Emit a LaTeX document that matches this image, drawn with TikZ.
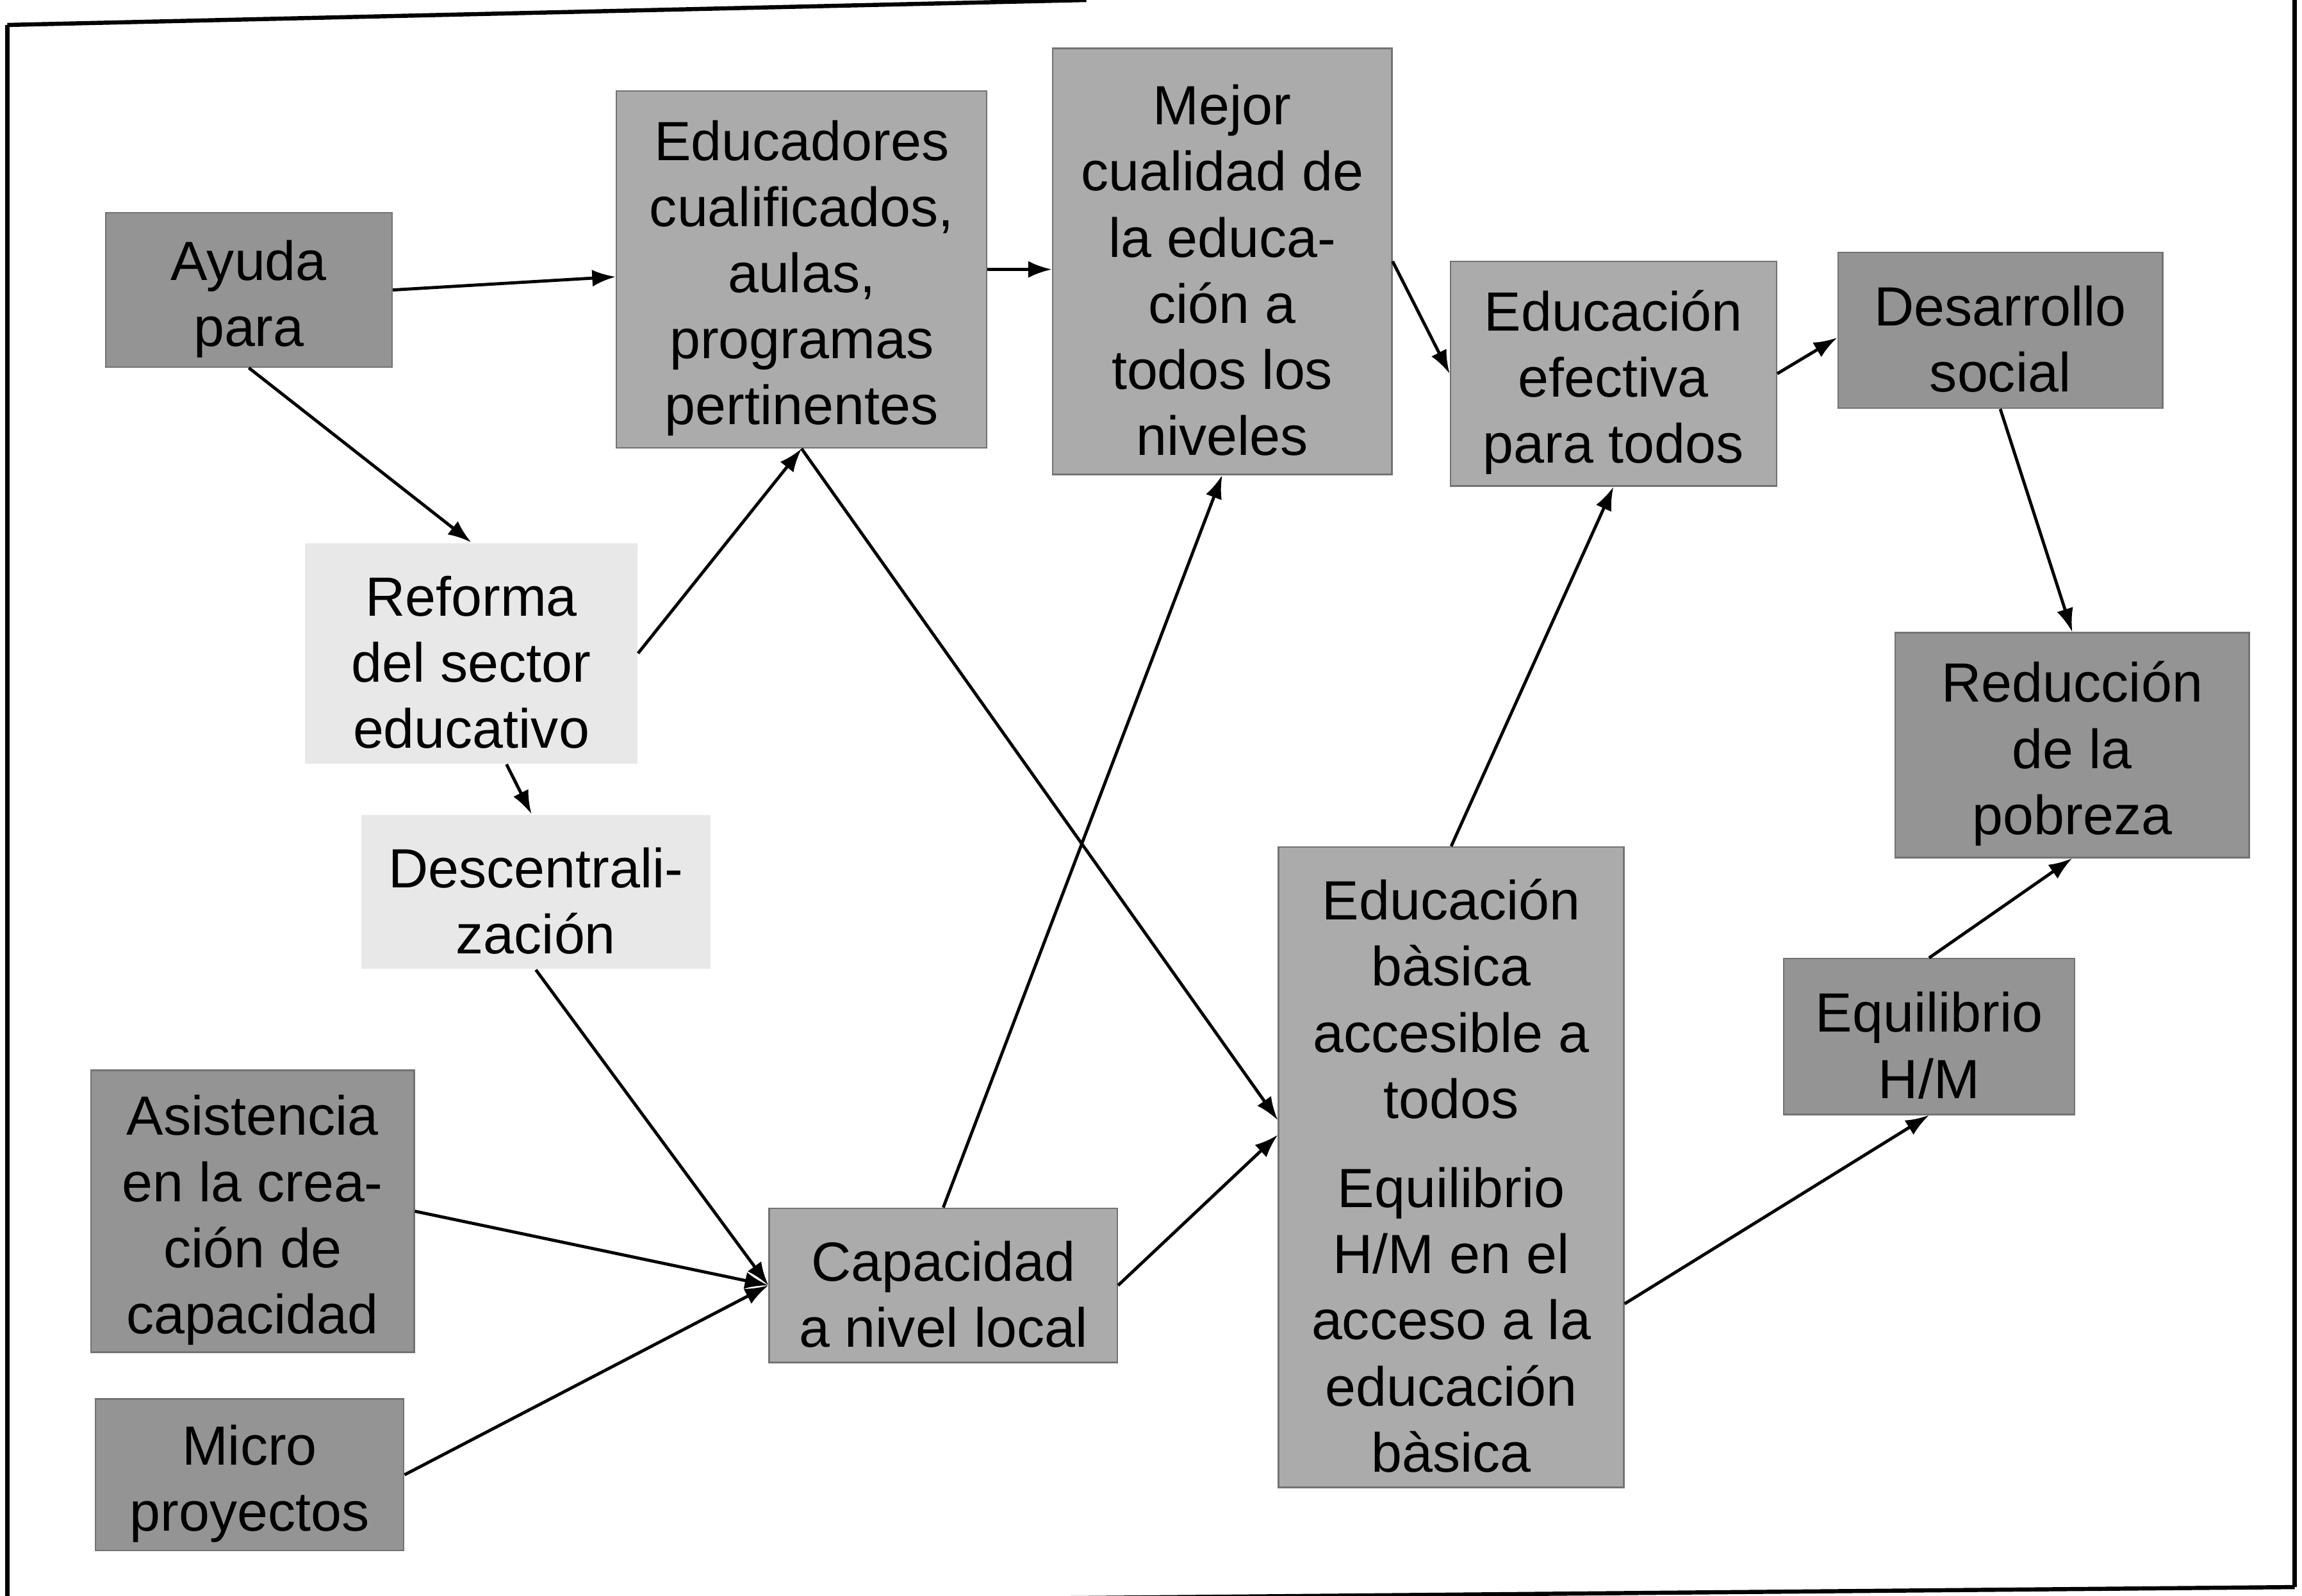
\documentclass[tikz,border=0pt]{standalone}
\usepackage{fontspec}
\setmainfont{Liberation Sans}
\usetikzlibrary{arrows.meta}
\definecolor{grisfonce}{gray}{0.58}
\definecolor{grismoyen}{gray}{0.67}
\definecolor{grisclair}{gray}{0.91}
\newcommand{\haut}{\rule{0pt}{11.2pt}}
\tikzset{
  boite/.style={draw=black!55, line width=0.3pt, inner sep=0pt, align=center,
    font=\fontsize{10.7}{12.8}\selectfont},
  fonce/.style={boite, fill=grisfonce},
  moyen/.style={boite, fill=grismoyen},
  clair/.style={boite, fill=grisclair, draw=none},
  fleche/.style={-{Latex[length=1.6mm,width=1.15mm]}, line width=0.6pt},
  marco/.style={line width=0.8pt},
}
\begin{document}
\begin{tikzpicture}[x=0.01cm,y=-0.01cm]% ------ Ayuda a la educacion ----------------
    \clip (0,0) rectangle (1568,1087);
    \draw [marco] (5,17)--(740,0);
    \draw [marco] (5,17)--(5,1090);
    \draw [marco] (1563,0)--(1563,1081);
    \draw [marco] (560,1090)--(1563,1081);
    % boites
    \node [fonce, minimum width=1.95cm, minimum height=1.05cm] (ayuda) at (169.5,197.5) {\haut Ayuda\\para};
    \node [moyen, minimum width=2.52cm, minimum height=2.43cm] (educ) at (546,183.5) {\haut Educadores\\cualificados,\\aulas,\\programas\\pertinentes};
    \node [moyen, minimum width=2.31cm, minimum height=2.90cm] (mejor) at (832.5,178) {\haut Mejor\\cualidad de\\la educa-\\ción a\\todos los\\niveles};
    \node [moyen, minimum width=2.22cm, minimum height=1.53cm] (efectiva) at (1099,254.5) {\haut Educación\\efectiva\\para todos};
    \node [fonce, minimum width=2.21cm, minimum height=1.06cm] (desarrollo) at (1362.5,225) {\haut Desarrollo\\social};
    \node [fonce, minimum width=2.41cm, minimum height=1.53cm] (reduccion) at (1411.5,507.5) {\haut Reducción\\de la\\pobreza};
    \node [clair, minimum width=2.26cm, minimum height=1.50cm] (reforma) at (321,445) {\haut Reforma\\del sector\\educativo};
    \node [clair, minimum width=2.38cm, minimum height=1.05cm] (desc) at (365,607.5) {\haut Descentrali-\\zación};
    \node [fonce, minimum width=2.20cm, minimum height=1.92cm] (asistencia) at (172,825) {\haut Asistencia\\en la crea-\\ción de\\capacidad};
    \node [fonce, minimum width=2.10cm, minimum height=1.03cm] (micro) at (170,1004.5) {\haut Micro\\proyectos};
    \node [moyen, minimum width=2.37cm, minimum height=1.05cm] (capacidad) at (642.5,875.5) {\haut Capacidad\\a nivel local};
    \node [moyen, minimum width=2.35cm, minimum height=4.36cm] (basica) at (988.5,795) {\haut Educación\\bàsica\\accesible a\\todos\\[4.5pt]Equilibrio\\H/M en el\\acceso a la\\educación\\bàsica};
    \node [fonce, minimum width=1.98cm, minimum height=1.06cm] (equilibrio) at (1314,706) {\haut Equilibrio\\H/M};
    % fleches
    \draw [fleche] (ayuda.east)--([yshift=-0.5mm]educ.west);
    \draw [fleche] (educ.east)--(educ.east -| mejor.west);
    \draw [fleche] (mejor.east)--(efectiva.west);
    \draw [fleche] (efectiva.east)--([yshift=-0.5mm]desarrollo.west);
    \draw [fleche] (desarrollo.south)--(reduccion.north);
    \draw [fleche] (ayuda.south)--(reforma.north);
    \draw [fleche] (reforma.east)--(educ.south);
    \draw [fleche] (educ.south)--([yshift=3.2mm]basica.west);
    \draw [fleche] ([xshift=2.4mm]reforma.south)--([xshift=-0.3mm]desc.north);
    \draw [fleche] (desc.south)--(capacidad.west);
    \draw [fleche] (asistencia.east)--(capacidad.west);
    \draw [fleche] (micro.east)--(capacidad.west);
    \draw [fleche] (capacidad.north)--(mejor.south);
    \draw [fleche] (capacidad.east)--([yshift=2.2mm]basica.west);
    \draw [fleche] (basica.north)--(efectiva.south);
    \draw [fleche] ([yshift=-9.3mm]basica.east)--(equilibrio.south);
    \draw [fleche] (equilibrio.north)--(reduccion.south);
\end{tikzpicture}
\end{document}
